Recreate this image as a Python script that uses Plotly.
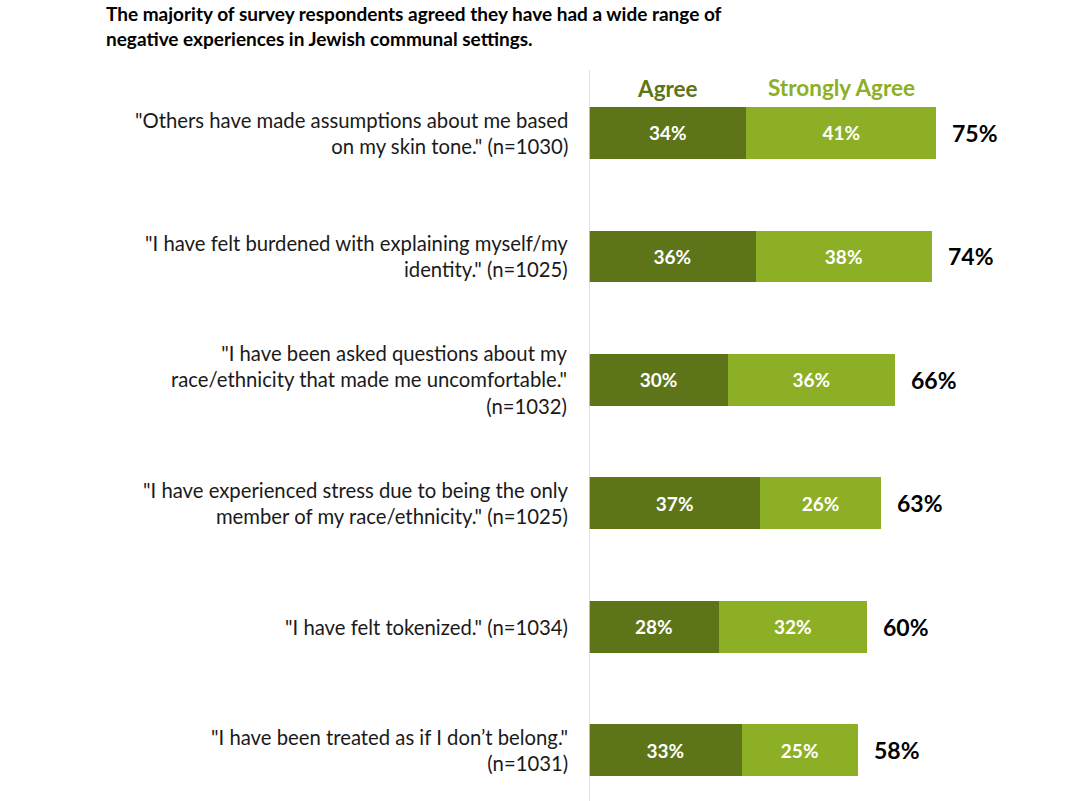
import plotly.graph_objects as go

title_lines = [
    "The majority of survey respondents agreed they have had a wide range of",
    "negative experiences in Jewish communal settings.",
]
categories = [
    '"Others have made assumptions about me based<br>on my skin tone." (n=1030)',
    '"I have felt burdened with explaining myself/my<br>identity." (n=1025)',
    '"I have been asked questions about my<br>race/ethnicity that made me uncomfortable."<br>(n=1032)',
    '"I have experienced stress due to being the only<br>member of my race/ethnicity." (n=1025)',
    '"I have felt tokenized." (n=1034)',
    '"I have been treated as if I don\u2019t belong."<br>(n=1031)',
]
agree = [34, 36, 30, 37, 28, 33]
strongly_agree = [41, 38, 36, 26, 32, 25]
totals = [75, 74, 66, 63, 60, 58]
series_names = ["Agree", "Strongly Agree"]

DARK = "#5e7418"
LIGHT = "#8daf26"
FONT = "Lato"

W, H = 1080, 801
L, T = 589, 70
PW, PH = W - L, H - T

pos = list(range(len(categories)))

fig = go.Figure()
for vals, color, name in [(agree, DARK, series_names[0]), (strongly_agree, LIGHT, series_names[1])]:
    fig.add_trace(go.Bar(
        y=pos, x=vals, orientation="h", marker=dict(color=color, line=dict(width=0)),
        width=0.42, text=[f"{v}%" for v in vals], textposition="inside",
        insidetextanchor="middle", textangle=0,
        textfont=dict(color="white", size=19, family=FONT, weight="bold"),
        name=name, hoverinfo="skip",
    ))

annotations = []
for p, t in zip(pos, totals):
    annotations.append(dict(
        x=t, y=p, xref="x", yref="y", text=f"{t}%", showarrow=False,
        xanchor="left", xshift=14,
        font=dict(size=23, color="black", family=FONT, weight="bold"),
    ))
for p, c in zip(pos, categories):
    annotations.append(dict(
        x=0, y=p, xref="paper", yref="y", text=c, showarrow=False,
        xanchor="right", align="right", xshift=-19,
        font=dict(size=20.3, color="#1a1a1a", family=FONT),
    ))
annotations.append(dict(
    x=agree[0] / 2, y=-0.36, xref="x", yref="y", text=series_names[0],
    showarrow=False, font=dict(size=22.5, color=DARK, family=FONT, weight="bold"),
))
annotations.append(dict(
    x=agree[0] + strongly_agree[0] / 2, y=-0.37, xref="x", yref="y", text=series_names[1],
    showarrow=False, font=dict(size=22.5, color=LIGHT, family=FONT, weight="bold"),
))
for i, line in enumerate(title_lines):
    annotations.append(dict(
        x=(104 - L) / PW, y=1 + (T - (14 + 24 * i)) / PH, xref="paper", yref="paper",
        text=line, showarrow=False, xanchor="left", yanchor="middle",
        font=dict(size=19, color="black", family=FONT, weight="bold"),
    ))

fig.update_layout(
    width=W, height=H,
    margin=dict(l=L, r=0, t=T, b=0),
    paper_bgcolor="white", plot_bgcolor="white",
    barmode="stack", showlegend=False,
    xaxis=dict(range=[0, PW / 4.63], visible=False, fixedrange=True),
    yaxis=dict(range=[5.41, -0.51], visible=False, fixedrange=True),
    annotations=annotations,
    shapes=[dict(type="line", xref="x", yref="paper", x0=0, x1=0, y0=0, y1=1,
                 line=dict(color="#d9d9d9", width=1.5))],
)

fig.write_html(
    "out.html",
    config={"displayModeBar": False},
    post_script="document.body.style.margin='0';document.body.style.overflow='hidden';",
)
